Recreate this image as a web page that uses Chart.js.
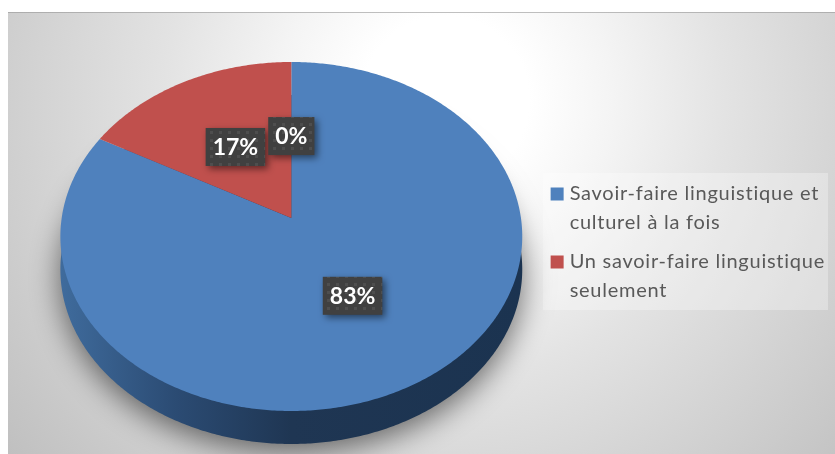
<!DOCTYPE html>
<html lang="fr">
<head>
<meta charset="utf-8">
<title>Savoir-faire</title>
<style>
    html, body { margin: 0; padding: 0; background: #fff; }
    #chart-box { width: 835px; height: 454px; }
</style>
<script src="https://cdn.jsdelivr.net/npm/chart.js@4"></script>
</head>
<body>
<div id="chart-box"><canvas id="myChart"></canvas></div>
<script>
const categories = ['Savoir-faire linguistique et culturel à la fois', 'Un savoir-faire linguistique seulement', 'Autre'];
const shares = [83, 17, 0];
const legendLines = [['Savoir-faire linguistique et', 'culturel à la fois'], ['Un savoir-faire linguistique', 'seulement']];
const sliceColors = ['#4f81bd', '#c0504d', '#9bbb59'];

// Perspective of the tilted disc
const TILT = 0.106;
const STRETCH_X = 1.472;
const STRETCH_Y = 1.106;
const LIFT = -29;      // legend stays centred lower than the pie
const DEPTH = 33;
const LABEL_RADIUS = 0.5;
const LEGEND_SPACING = '0.75px';

// Disc position (fraction of radius, angle) to canvas position
function project(el, frac, angle) {
    const u = frac * Math.cos(angle);
    const v = frac * Math.sin(angle);
    const w = 1 - TILT * v;
    return {
        x: el.x + STRETCH_X * el.outerRadius * u / w,
        y: el.y + LIFT + STRETCH_Y * el.outerRadius * v / w
    };
}

function traceSlice(ctx, el, drop) {
    const c = project(el, 0, 0);
    ctx.beginPath();
    ctx.moveTo(c.x, c.y + drop);
    const steps = Math.ceil((el.endAngle - el.startAngle) / 0.01);
    for (let i = 0; i <= steps; i++) {
        const p = project(el, 1, el.startAngle + (el.endAngle - el.startAngle) * i / steps);
        ctx.lineTo(p.x, p.y + drop);
    }
    ctx.closePath();
}

function dotPattern(ctx) {
    const tile = document.createElement('canvas');
    tile.width = 9;
    tile.height = 8;
    const t = tile.getContext('2d');
    t.fillStyle = '#404040';
    t.fillRect(0, 0, 9, 8);
    t.fillStyle = '#4e4e4e';
    t.fillRect(3, 3, 3, 3);
    return ctx.createPattern(tile, 'repeat');
}

const tiltedPie = {
    id: 'tiltedPie',
    beforeLayout(chart) {
        // canvas resizes drop this, so it is set again before measuring and drawing
        chart.ctx.letterSpacing = LEGEND_SPACING;
    },
    beforeDraw(chart) {
        const ctx = chart.ctx;
        ctx.letterSpacing = LEGEND_SPACING;
        const bg = ctx.createRadialGradient(445, 100, 0, 445, 100, 560);
        bg.addColorStop(0, '#ffffff');
        bg.addColorStop(0.15, '#ffffff');
        bg.addColorStop(0.3, '#f4f4f4');
        bg.addColorStop(0.5, '#e3e3e3');
        bg.addColorStop(0.7, '#d5d5d5');
        bg.addColorStop(1, '#c0c0c0');
        ctx.save();
        ctx.fillStyle = '#ffffff';
        ctx.fillRect(0, 0, chart.width, chart.height);
        ctx.fillStyle = bg;
        ctx.fillRect(8, 12, chart.width - 8, chart.height - 12);
        ctx.fillStyle = 'rgba(150,150,150,0.6)';
        ctx.fillRect(8, 12, chart.width - 8, 1);
        // legend panel
        ctx.fillStyle = 'rgba(255,255,255,0.3)';
        ctx.fillRect(543, 173, 285, 137);
        ctx.restore();
    },
    beforeDatasetDraw(chart, args) {
        const ctx = chart.ctx;
        const arcs = args.meta.data;
        const el = arcs[0];
        const left = el.x - STRETCH_X * el.outerRadius;
        const right = el.x + STRETCH_X * el.outerRadius;

        // side wall with its soft shadow, dropped under the whole disc
        const side = ctx.createLinearGradient(left, 0, right, 0);
        side.addColorStop(0, '#3f6b9c');
        side.addColorStop(0.25, '#2b4b73');
        side.addColorStop(0.5, '#1f3653');
        side.addColorStop(1, '#1b3350');
        ctx.save();
        ctx.shadowColor = 'rgba(0,0,0,0.55)';
        ctx.shadowBlur = 30;
        ctx.shadowOffsetY = 8;
        ctx.fillStyle = side;
        arcs.forEach(a => {
            if (a.circumference > 0) {
                traceSlice(ctx, a, DEPTH);
                ctx.fill();
            }
        });
        ctx.restore();

        arcs.forEach((a, i) => {
            if (a.circumference <= 0) return;
            traceSlice(ctx, a, 0);
            ctx.fillStyle = sliceColors[i];
            ctx.fill();
        });
        return false;
    },
    afterDatasetsDraw(chart) {
        const ctx = chart.ctx;
        const arcs = chart.getDatasetMeta(0).data;
        const fill = dotPattern(ctx);
        ctx.save();
        ctx.letterSpacing = '0px';
        ctx.font = 'bold 23px Lato';
        ctx.textAlign = 'center';
        ctx.textBaseline = 'middle';
        arcs.forEach((a, i) => {
            const p = project(a, LABEL_RADIUS, (a.startAngle + a.endAngle) / 2);
            const text = shares[i] + '%';
            const boxW = ctx.measureText(text).width + 14;
            const boxH = 38;
            ctx.save();
            ctx.shadowColor = 'rgba(0,0,0,0.5)';
            ctx.shadowBlur = 7;
            ctx.shadowOffsetX = 3;
            ctx.shadowOffsetY = 3;
            ctx.fillStyle = fill;
            ctx.fillRect(p.x - boxW / 2, p.y - boxH / 2, boxW, boxH);
            ctx.restore();
            ctx.fillStyle = '#ffffff';
            ctx.fillText(text, p.x, p.y + 1);
        });
        ctx.restore();
    }
};

new Chart(document.getElementById('myChart'), {
    type: 'pie',
    data: {
        labels: categories,
        datasets: [{
            data: shares,
            backgroundColor: sliceColors,
            borderWidth: 0,
            radius: 156
        }]
    },
    options: {
        responsive: true,
        maintainAspectRatio: false,
        animation: false,
        layout: { padding: { top: 40, left: 38, right: 0 } },
        plugins: {
            tooltip: { enabled: false },
            legend: {
                position: 'right',
                labels: {
                    // narrow box width keeps the square close to its text
                    usePointStyle: true,
                    boxWidth: 5,
                    boxHeight: 13,
                    padding: 10,
                    color: '#595959',
                    font: { family: 'Lato', size: 20, lineHeight: 1.45 },
                    generateLabels(chart) {
                        return legendLines.map((lines, i) => ({
                            text: lines,
                            index: i,
                            pointStyle: 'rect',
                            fillStyle: sliceColors[i],
                            strokeStyle: sliceColors[i],
                            lineWidth: 0,
                            fontColor: '#595959',
                            hidden: false
                        }));
                    }
                }
            }
        }
    },
    plugins: [tiltedPie]
});
</script>
</body>
</html>
